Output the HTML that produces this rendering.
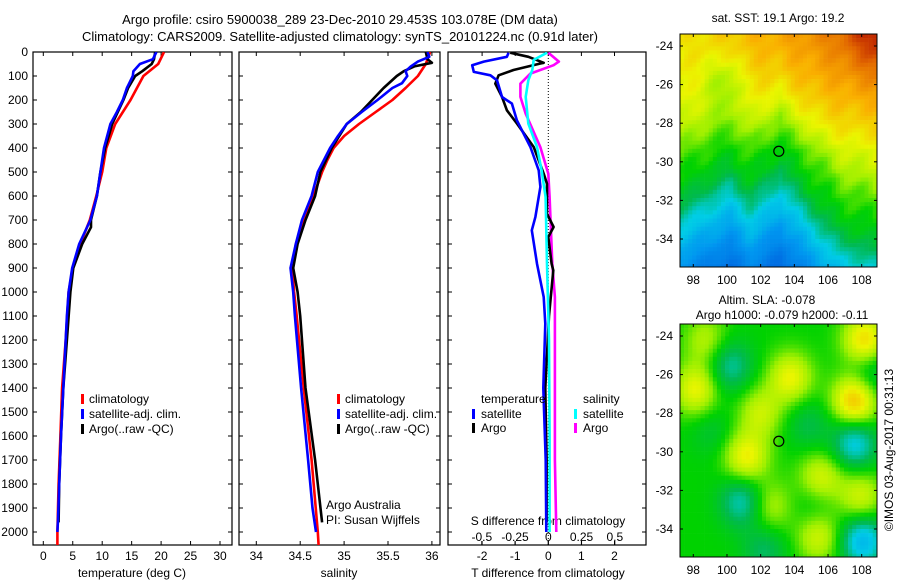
<!DOCTYPE html>
<html><head><meta charset="utf-8"><style>
html,body{margin:0;padding:0;background:#fff}
svg{display:block;font-family:"Liberation Sans",sans-serif}
</style></head><body>
<svg id="fig" width="900" height="580" viewBox="0 0 900 580" xmlns="http://www.w3.org/2000/svg">
<defs>
<clipPath id="c1"><rect x="33" y="52" width="199" height="493"/></clipPath>
<clipPath id="c2"><rect x="239" y="52" width="201" height="493"/></clipPath>
<clipPath id="c3"><rect x="448" y="52" width="198" height="493"/></clipPath>
</defs>
<text x="340" y="24" font-size="13" text-anchor="middle">Argo profile: csiro 5900038_289 23-Dec-2010 29.453S 103.078E (DM data)</text>
<text x="340" y="41" font-size="13" text-anchor="middle">Climatology: CARS2009. Satellite-adjusted climatology: synTS_20101224.nc (0.91d later)</text>
<g id="g1"></g>
<g id="g2"></g>
<g id="g3"></g>
<g id="m1"></g>
<g id="m2"></g>
<text x="778" y="22" font-size="12" text-anchor="middle">sat. SST: 19.1 Argo: 19.2</text>
<text x="767" y="304" font-size="12" text-anchor="middle">Altim. SLA: -0.078</text>
<text x="782" y="319" font-size="12" text-anchor="middle">Argo h1000: -0.079 h2000: -0.11</text>
<text transform="translate(893,450) rotate(-90)" font-size="12" text-anchor="middle">©IMOS 03-Aug-2017 00:31:13</text>
</svg>
<script>
// ---- profile data (depth in m) ----
const depthTicks = [0,100,200,300,400,500,600,700,800,900,1000,1100,1200,1300,1400,1500,1600,1700,1800,1900,2000];
const tempTicks = [0,5,10,15,20,25,30];
const salTicks = [34,34.5,35,35.5,36];
const salTickLabels = ["34","34.5","35","35.5","36"];
const tdiffTicks = [-2,-1,0,1,2];
const sdiffTickLabels = ["-0.5","-0.25","0","0.25","0.5"];
const sdiffTicks = [-0.5,-0.25,0,0.25,0.5];

const tClimDepth = [0,50,100,200,300,400,500,600,700,800,900,1000,1200,1400,1600,1800,2000,2055];
const tClimVal   = [20.5,19.5,17,14.8,12.2,10.7,10,9,7.9,6.3,5,4.3,3.8,3.2,2.9,2.6,2.4,2.4];
const tSatDepth = [0,30,50,80,100,150,200,250,300,400,500,600,700,800,900,1000,1100,1400,1600,1800,1950,2000];
const tSatVal   = [19.2,18.6,16.4,15.3,15.2,14.2,13.5,12.5,11.4,10.3,9.7,9.1,8,6.1,4.9,4.3,4.0,3.4,3.0,2.7,2.5,2.4];
const tArgoDepth = [0,30,50,80,100,150,200,300,400,500,600,700,730,800,900,1000,1200,1400,1600,1800,1960];
const tArgoVal   = [19,18.8,18.4,16.8,15.6,14.4,13.6,11.7,10.5,9.7,9.1,8.1,8.1,6.6,5.1,4.6,4.0,3.4,3.0,2.7,2.6];

const sClimDepth = [0,50,100,150,200,250,300,350,400,450,500,600,700,800,900,1000,1100,1400,1700,2000,2055];
const sClimVal   = [35.98,35.93,35.84,35.7,35.55,35.36,35.17,35.0,34.88,34.81,34.75,34.65,34.54,34.45,34.41,34.43,34.46,34.54,34.63,34.7,34.71];
const sSatDepth = [0,20,40,60,80,100,130,150,200,250,300,350,400,500,600,700,800,900,1000,1100,1400,1700,1900,2000];
const sSatVal   = [35.95,35.97,35.84,35.76,35.7,35.72,35.66,35.55,35.38,35.2,35.03,34.93,34.84,34.7,34.63,34.52,34.45,34.39,34.42,34.44,34.51,34.59,34.64,34.68];
const sArgoDepth = [0,30,45,60,80,100,150,200,250,300,400,500,600,700,800,900,1000,1100,1400,1700,1960];
const sArgoVal   = [35.93,35.95,36.0,35.8,35.68,35.6,35.45,35.32,35.19,35.03,34.86,34.73,34.67,34.56,34.47,34.42,34.47,34.5,34.56,34.67,34.75];

const dTSatDepth = [3,20,40,55,83,97,118,187,215,285,396,493,562,687,743,882,1021,1132,1400,1700,2000];
const dTSatVal   = [-1.2,-1.25,-1.95,-2.3,-2.25,-1.75,-1.55,-1.4,-1.1,-0.95,-0.54,-0.29,-0.24,-0.39,-0.5,-0.34,-0.14,-0.09,-0.15,-0.08,-0.06];
const dTArgoDepth = [3,20,45,48,75,97,132,187,243,298,396,507,549,674,729,771,882,910,1100,1400,1700,1960];
const dTArgoVal   = [-1.15,-0.6,-0.14,-0.24,-1.05,-1.5,-1.6,-1.4,-1.25,-0.95,-0.44,-0.14,-0.04,-0.04,0.16,0,0.1,0.15,0.02,-0.09,-0.05,-0.05];
const dSSatDepth = [3,33,75,118,187,298,396,493,604,882,1200,1600,2000];
const dSSatVal   = [-0.01,-0.11,-0.12,-0.15,-0.17,-0.15,-0.085,-0.05,-0.02,-0.01,0.005,0.01,0.01];
const dSArgoDepth = [3,40,55,90,132,187,257,396,507,604,882,1021,1400,1700,2000];
const dSArgoVal   = [0,0.08,0.04,-0.135,-0.21,-0.21,-0.17,-0.06,0,0.01,0.03,0.05,0.05,0.05,0.06];

// ---- map data ----
const lonTicks = [98,100,102,104,106,108];
const latTicks = [-24,-26,-28,-30,-32,-34];
const floatLon = 103.078, floatLat = -29.453;
const slaBlobU = [0.08,0.55,0.87,0.92,0.33,0.70,0.90,0.40,0.13,0.69,0.45,0.25,0.87,0.31,0.91,0.64,0.95,0.42,0.16,0.67];
const slaBlobV = [0.28,0.23,0.33,0.07,0.57,0.66,0.74,0.38,0.07,0.91,0.78,0.18,0.51,0.76,0.93,0.43,0.21,0.97,0.46,0.77];
const slaBlobA = [0.16,0.16,0.24,0.2,0.17,0.14,0.13,0.12,0.1,0.13,0.1,-0.13,-0.18,-0.15,-0.22,-0.07,-0.09,-0.09,-0.05,-0.05];

const NS="http://www.w3.org/2000/svg";
function mk(tag, attrs, parent){const e=document.createElementNS(NS,tag);for(const k in attrs)e.setAttribute(k,attrs[k]);parent.appendChild(e);return e;}
const Y0=52, YS=0.24;
const yD = d => Y0 + d*YS;
const xT = t => 43.3 + t*5.89;
const xS = s => 256.3 + (s-34)*87.8;
const xDT = v => 548.3 + v*33.1;
const xDS = v => 548.3 + v*133;

function frame(g, x0, x1, name){
  const r=mk('rect',{x:x0,y:52,width:x1-x0,height:493,fill:'none',stroke:'#000','stroke-width':1.2},g);
  
  
  depthTicks.forEach(d=>{
    mk('line',{x1:x0,x2:x0+4,y1:yD(d),y2:yD(d),stroke:'#000'},g);
    mk('line',{x1:x1-4,x2:x1,y1:yD(d),y2:yD(d),stroke:'#000'},g);
  });
}
function xticks(g, vals, fx, labels, name){
  vals.forEach((v,i)=>{
    const x=fx(v);
    mk('line',{x1:x,x2:x,y1:52,y2:56,stroke:'#000'},g);
    mk('line',{x1:x,x2:x,y1:541,y2:545,stroke:'#000'},g);
    const t=mk('text',{x:x,y:560,'font-size':12,'text-anchor':'middle'},g);
    t.textContent=labels[i];
    
    
  });
}
function line(g, depths, vals, fx, color, clip, name){
  const p=depths.map((d,i)=>fx(vals[i]).toFixed(1)+','+yD(d).toFixed(1)).join(' ');
  const e=mk('polyline',{points:p,fill:'none',stroke:color,'stroke-width':2.6,'stroke-linejoin':'round','clip-path':'url(#'+clip+')'},g);
  
  
}
function label(g,x,y,txt,name,anchor){
  const t=mk('text',{x:x,y:y,'font-size':12,'text-anchor':anchor||'start'},g);
  t.textContent=txt;
  
  
  return t;
}
function legendBar(g,x,y,color,name){
  const r=mk('rect',{x:x,y:y,width:3,height:10,fill:color},g);
  
  
}

// panel 1
const g1=document.getElementById('g1');
frame(g1,33,232,'temperature-axes-frame');
depthTicks.forEach(d=>{
  const t=mk('text',{x:28,y:yD(d)+4,'font-size':12,'text-anchor':'end'},g1);
  t.textContent=String(d);
  
  
});
xticks(g1,tempTicks,xT,tempTicks.map(String),'temperature-tick-label');
line(g1,tClimDepth,tClimVal,xT,'#f00','c1','temperature-climatology-line');
line(g1,tArgoDepth,tArgoVal,xT,'#000','c1','temperature-argo-line');
line(g1,tSatDepth,tSatVal,xT,'#00f','c1','temperature-satellite-line');
label(g1,132,577,'temperature (deg C)','temperature-axis-title','middle');
[['#f00','climatology'],['#00f','satellite-adj. clim.'],['#000','Argo(..raw -QC)']].forEach((e,i)=>{
  legendBar(g1,81,394+i*15,e[0],'temperature-legend-marker');
  label(g1,89,403+i*15,e[1],'temperature-legend-entry');
});

// panel 2
const g2=document.getElementById('g2');
frame(g2,239,440,'salinity-axes-frame');
xticks(g2,salTicks,xS,salTickLabels,'salinity-tick-label');
line(g2,sClimDepth,sClimVal,xS,'#f00','c2','salinity-climatology-line');
line(g2,sArgoDepth,sArgoVal,xS,'#000','c2','salinity-argo-line');
line(g2,sSatDepth,sSatVal,xS,'#00f','c2','salinity-satellite-line');
label(g2,339,577,'salinity','salinity-axis-title','middle');
[['#f00','climatology'],['#00f','satellite-adj. clim.'],['#000','Argo(..raw -QC)']].forEach((e,i)=>{
  legendBar(g2,337,394+i*15,e[0],'salinity-legend-marker');
  label(g2,345,403+i*15,e[1],'salinity-legend-entry');
});
label(g2,326,509,'Argo Australia','argo-australia-label');
label(g2,326,524,'PI: Susan Wijffels','pi-label');

// panel 3
const g3=document.getElementById('g3');
frame(g3,448,646,'difference-axes-frame');
xticks(g3,tdiffTicks,xDT,tdiffTicks.map(String),'t-difference-tick-label');
sdiffTicks.forEach((v,i)=>{
  const x=xDS(v);
  mk('line',{x1:x,x2:x,y1:541,y2:545,stroke:'#000'},g3);
  label(g3,x,541,sdiffTickLabels[i],'s-difference-tick-label','middle');
});
label(g3,548,525,'S difference from climatology','s-difference-axis-title','middle');
label(g3,548,577,'T difference from climatology','t-difference-axis-title','middle');
const zl=mk('line',{x1:xDT(0),x2:xDT(0),y1:52,y2:545,stroke:'#000','stroke-dasharray':'1,2','stroke-width':1},g3);


line(g3,dSArgoDepth,dSArgoVal,xDS,'#f0f','c3','s-difference-argo-line');
line(g3,dTArgoDepth,dTArgoVal,xDT,'#000','c3','t-difference-argo-line');
line(g3,dTSatDepth,dTSatVal,xDT,'#00f','c3','t-difference-satellite-line');
line(g3,dSSatDepth,dSSatVal,xDS,'#0ff','c3','s-difference-satellite-line');
label(g3,481,403,'temperature','diff-legend-temperature-header');
label(g3,583,403,'salinity','diff-legend-salinity-header');
legendBar(g3,472,409,'#00f','t-satellite-legend-marker');
label(g3,481,418,'satellite','t-satellite-legend-entry');
legendBar(g3,472,423,'#000','t-argo-legend-marker');
label(g3,481,432,'Argo','t-argo-legend-entry');
legendBar(g3,574,409,'#0ff','s-satellite-legend-marker');
label(g3,583,418,'satellite','s-satellite-legend-entry');
legendBar(g3,574,423,'#f0f','s-argo-legend-marker');
label(g3,583,432,'Argo','s-argo-legend-entry');

// ---- maps ----
const cStops=[[0,[0,90,220]],[0.2,[0,150,240]],[0.33,[0,205,230]],[0.42,[0,185,80]],[0.5,[0,210,0]],[0.58,[160,240,0]],[0.66,[235,245,0]],[0.76,[250,175,0]],[0.88,[225,100,0]],[1,[170,0,0]]];
function cmap(v){
  v=Math.max(0,Math.min(1,v));
  for(let i=1;i<cStops.length;i++){
    if(v<=cStops[i][0]){
      const a=cStops[i-1],b=cStops[i],f=(v-a[0])/(b[0]-a[0]);
      return 'rgb('+a[1].map((c,j)=>Math.round(c+(b[1][j]-c)*f)).join(',')+')';
    }
  }
  return 'rgb(170,0,0)';
}
const MX0=680, MX1=877, MH=233;
const xLon = lon => 693.3 + (lon-98)*16.84;
const gTopU=[0,0.25,0.35,0.5,0.65,0.8,1], gTopV=[0.5,0.37,0.46,0.35,0.5,0.64,0.7];
function gTop(u){for(let i=1;i<gTopU.length;i++){if(u<=gTopU[i]){const f=(u-gTopU[i-1])/(gTopU[i]-gTopU[i-1]);return gTopV[i-1]+(gTopV[i]-gTopV[i-1])*f;}}return 0.7;}
function sst(u,v){
  const s=v-gTop(u);
  let val;
  if(s<0) val=0.55+0.13*Math.tanh(-5*s);
  else if(s<0.18) val=0.55-0.45*s;
  else val=0.47-0.9*(s-0.18);
  val+=0.4*u*Math.max(0,0.5-v);
  val+=0.1*Math.exp(-((u-1)*(u-1)+v*v)/0.03);
  val-=0.08*Math.exp(-((u-.22)*(u-.22)+(v-.2)*(v-.2))/0.012);
  val+=0.02*Math.sin(u*37+v*23)*Math.cos(v*29);
  return val;
}
function sla(u,v){
  let val=0.5;
  for(let i=0;i<slaBlobU.length;i++){
    const du=u-slaBlobU[i], dv=v-slaBlobV[i];
    val+=slaBlobA[i]*Math.exp(-(du*du+dv*dv)/0.012);
  }
  return val;
}
function drawMap(gid, top, fn, frameName){
  const g=document.getElementById(gid);
  const cell=4.1;
  const nx=Math.ceil((MX1-MX0)/cell), ny=Math.ceil(MH/cell);
  for(let j=0;j<ny;j++)for(let i=0;i<nx;i++){
    const u=(i+0.5)/nx, v=(j+0.5)/ny;
    mk('rect',{x:(MX0+i*cell).toFixed(1),y:(top+j*cell).toFixed(1),width:cell+0.3,height:cell+0.3,fill:cmap(fn(u,v))},g);
  }
  mk('rect',{x:MX1,y:top-2,width:8,height:MH+4,fill:'#fff'},g);
  mk('rect',{x:MX0-2,y:top+MH,width:MX1-MX0+10,height:6,fill:'#fff'},g);
  const fr=mk('rect',{x:MX0,y:top,width:MX1-MX0,height:MH,fill:'none',stroke:'#000','stroke-width':1},g);
  
  
  const yLat = lat => top+12 + (-24-lat)*19.3;
  lonTicks.forEach(l=>{
    const x=xLon(l);
    mk('line',{x1:x,x2:x,y1:top,y2:top+3,stroke:'#000'},g);
    mk('line',{x1:x,x2:x,y1:top+MH-3,y2:top+MH,stroke:'#000'},g);
    label(g,x,top+MH+17,String(l),'longitude-tick-label','middle');
  });
  latTicks.forEach(l=>{
    const y=yLat(l);
    mk('line',{x1:MX0,x2:MX0+3,y1:y,y2:y,stroke:'#000'},g);
    mk('line',{x1:MX1-3,x2:MX1,y1:y,y2:y,stroke:'#000'},g);
    label(g,673,y+4,String(l),'latitude-tick-label','end');
  });
  const c=mk('circle',{cx:xLon(floatLon),cy:yLat(floatLat),r:5,fill:'none',stroke:'#000','stroke-width':1.2},g);
  
  
}
drawMap('m1',34,sst,'sst-map-frame');
drawMap('m2',324,sla,'sla-map-frame');
</script>
</body></html>
